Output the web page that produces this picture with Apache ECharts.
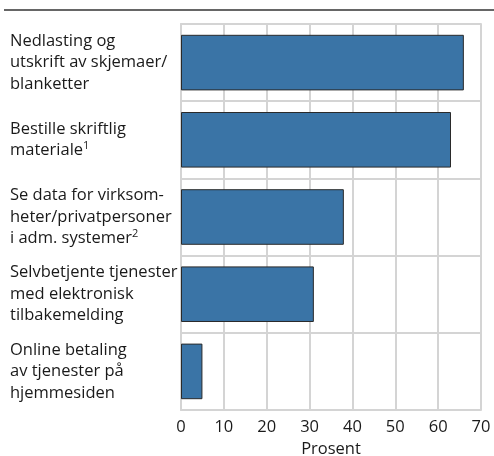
<!DOCTYPE html>
<html>
<head>
<meta charset="utf-8">
<script src="https://cdn.jsdelivr.net/npm/echarts@6/dist/echarts.min.js"></script>
<style>
  html, body { margin: 0; padding: 0; background: #fff; }
  #chart { width: 494px; height: 456px; }
</style>
</head>
<body>
<div id="chart"></div>
<script>
// categories, top to bottom
let categories = [
    'Nedlasting og\nutskrift av skjemaer/\nblanketter',
    'Bestille skriftlig\nmateriale{sup|1}',
    'Se data for virksom-\nheter/privatpersoner\ni adm. systemer{sup|2}',
    'Selvbetjente tjenester\nmed elektronisk\ntilbakemelding',
    'Online betaling\nav tjenester på\nhjemmesiden'
];
// percent
let values = [66, 63, 38, 31, 5];
let xTicks = [0, 10, 20, 30, 40, 50, 60, 70];

let chart = echarts.init(document.getElementById('chart'));
let font = '"Open Sans", "Noto Sans", sans-serif';
let gridColor = '#d4d4d4';

chart.setOption({
    animation: false,
    grid: { left: 181, right: 13, top: 24, bottom: 46, outerBoundsMode: 'none', containLabel: false },
    graphic: [{
        type: 'line',
        shape: { x1: 4, y1: 10, x2: 494, y2: 10 },
        style: { stroke: '#333', lineWidth: 1.5 }
    }],
    xAxis: [{
        type: 'value',
        min: xTicks[0],
        max: xTicks[xTicks.length - 1],
        interval: 10,
        name: 'Prosent',
        nameLocation: 'middle',
        nameGap: 30,
        nameTextStyle: { fontFamily: font, fontSize: 16.5, color: '#1a1a1a' },
        axisLine: { show: true, lineStyle: { color: gridColor, width: 2 } },
        axisTick: { show: false },
        axisLabel: { margin: 9, fontFamily: font, fontSize: 16.5, color: '#1a1a1a' },
        splitLine: { show: true, lineStyle: { color: gridColor, width: 2 } }
    }, {
        // top border of the plot
        type: 'value',
        position: 'top',
        min: xTicks[0],
        max: xTicks[xTicks.length - 1],
        interval: 10,
        axisLine: { show: true, lineStyle: { color: gridColor, width: 2 } },
        axisTick: { show: false },
        axisLabel: { show: false },
        splitLine: { show: false }
    }],
    yAxis: {
        type: 'category',
        inverse: true,
        data: categories,
        axisLine: { show: true, lineStyle: { color: gridColor, width: 2 } },
        axisTick: { show: false },
        splitLine: { show: true, lineStyle: { color: gridColor, width: 2 } },
        axisLabel: {
            align: 'left',
            margin: 171,
            fontFamily: font,
            fontSize: 16.5,
            lineHeight: 21.5,
            color: '#1a1a1a',
            rich: {
                sup: { fontFamily: font, fontSize: 11, color: '#1a1a1a', padding: [0, 0, 9, 0] }
            }
        }
    },
    series: [{
        type: 'bar',
        data: values,
        barCategoryGap: '28%',
        itemStyle: { color: '#3a74a6', borderColor: '#2a2a2a', borderWidth: 1 }
    }]
});
</script>
</body>
</html>
